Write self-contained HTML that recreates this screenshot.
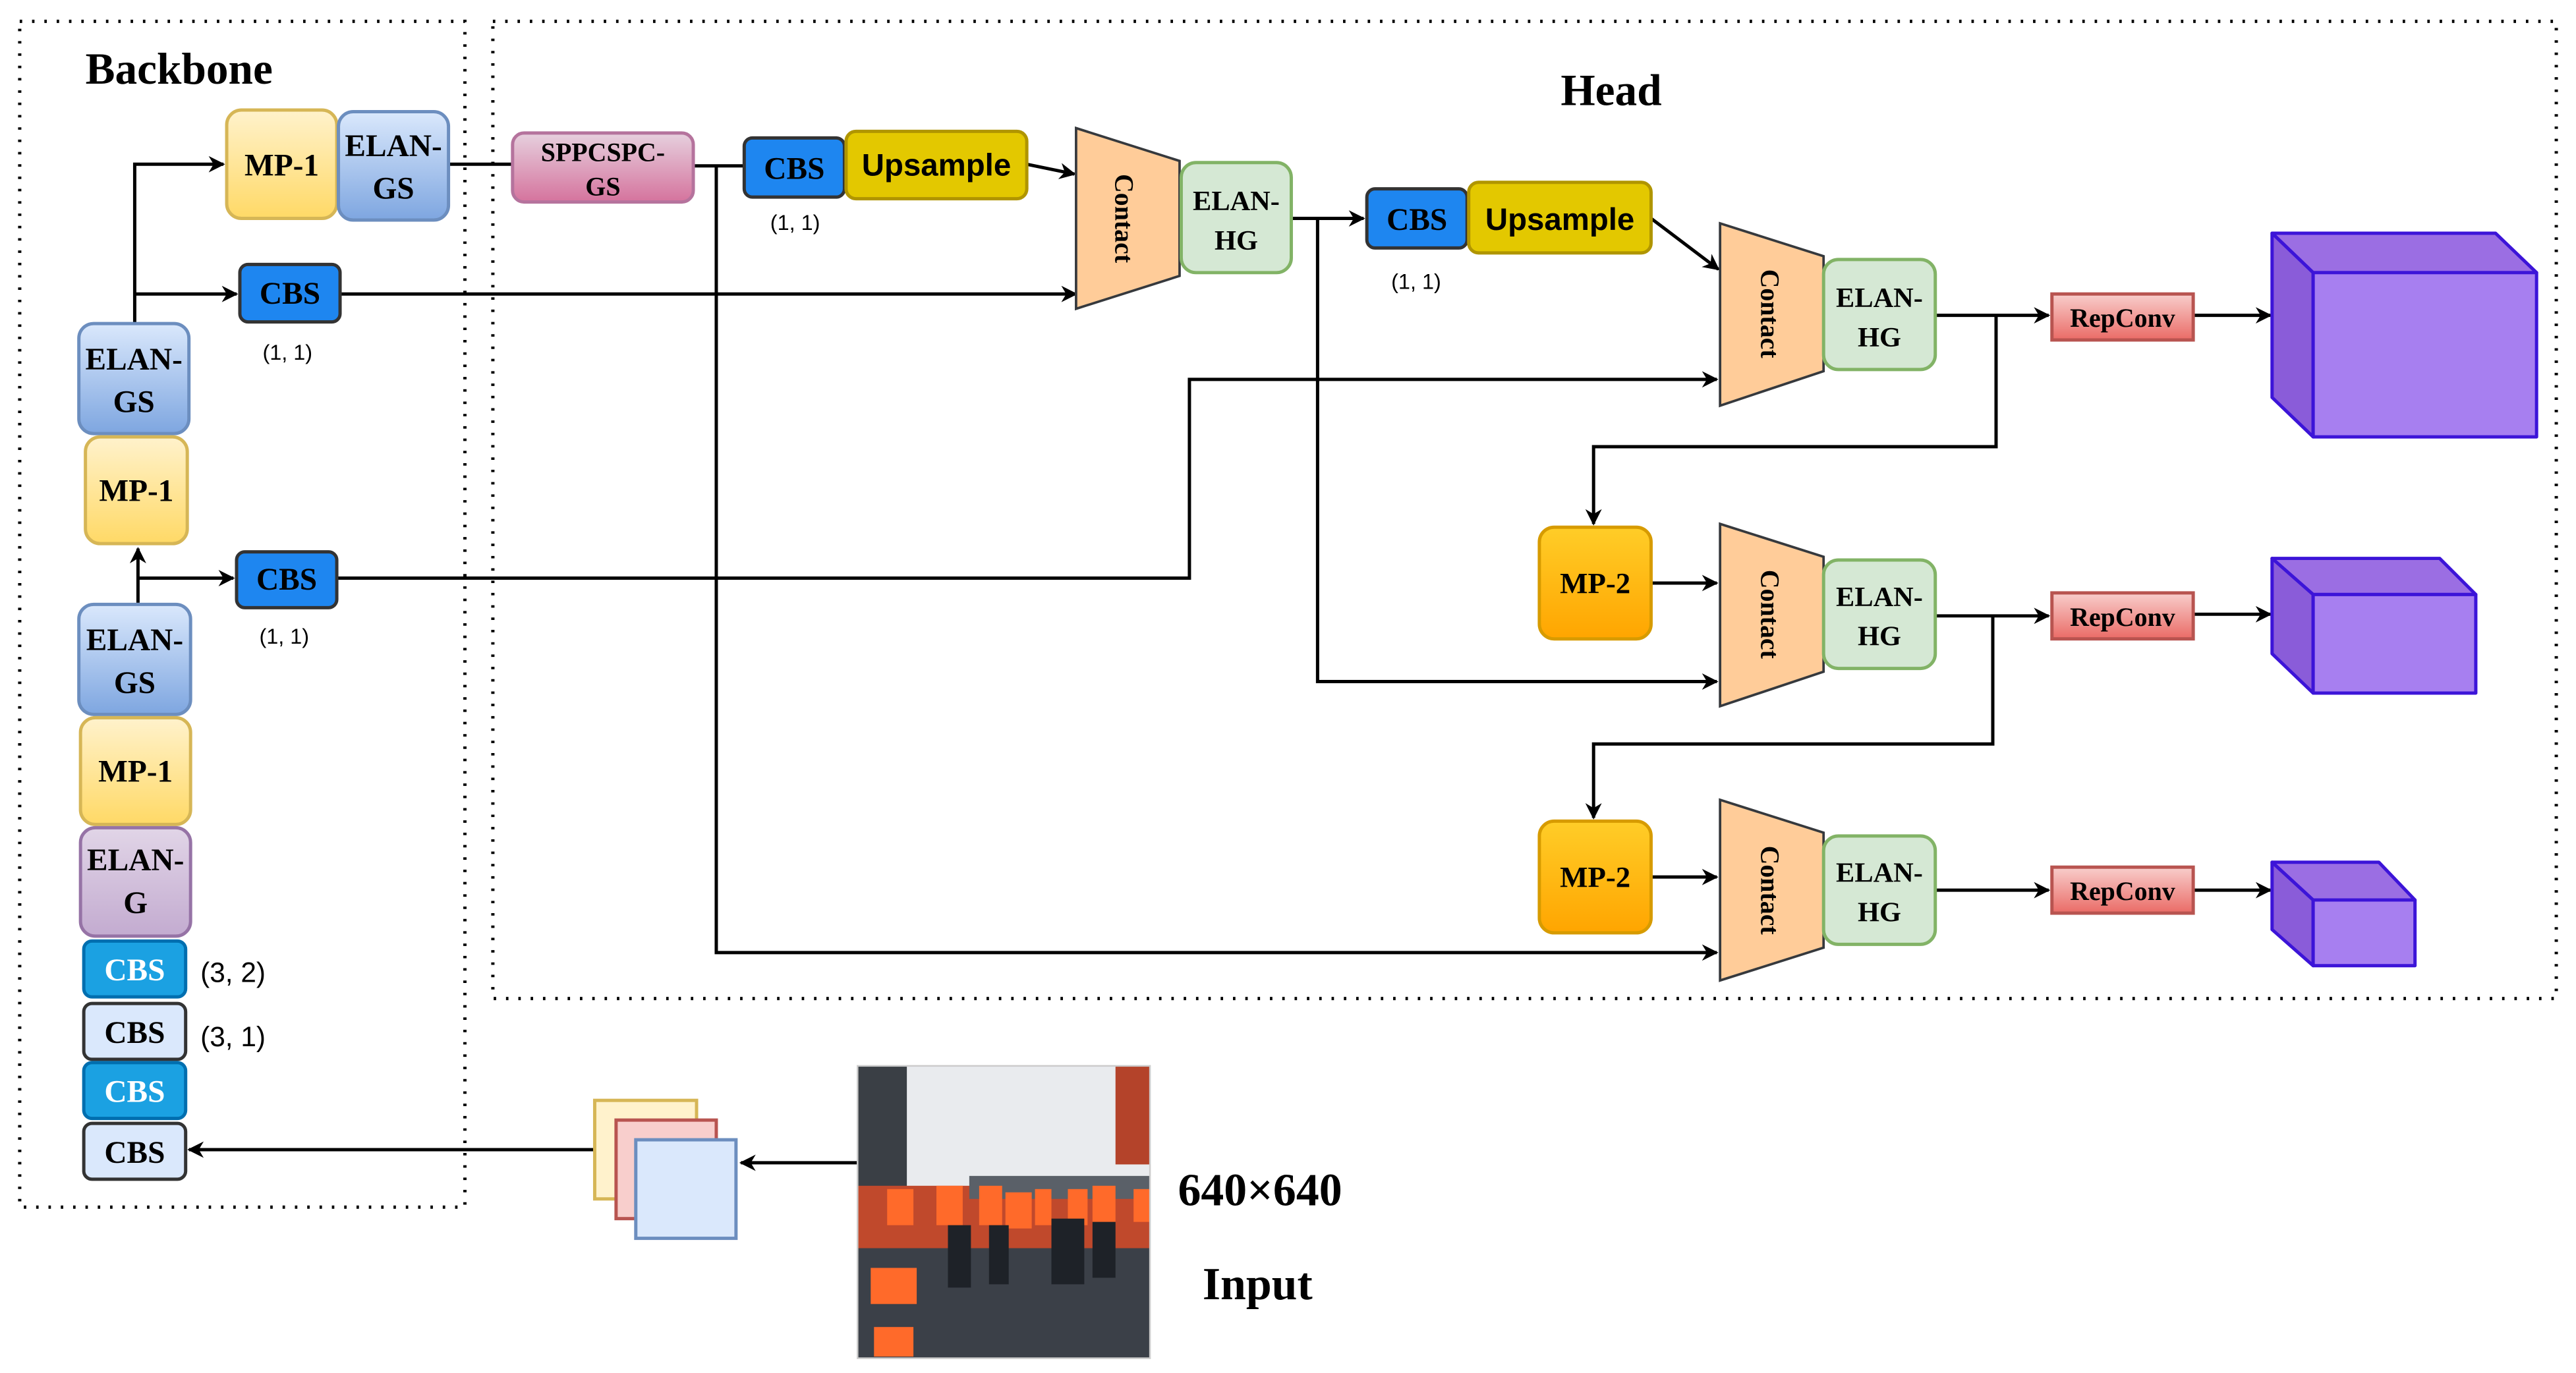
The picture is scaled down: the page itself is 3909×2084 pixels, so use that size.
<!DOCTYPE html>
<html><head><meta charset="utf-8"><style>
html,body{margin:0;padding:0;background:#fff;}
svg{display:block;}
.t{font-family:"Liberation Serif",serif;font-weight:bold;fill:#000;}
.s{font-family:"Liberation Sans",sans-serif;}
</style></head><body>
<svg width="3909" height="2084" viewBox="0 0 1568 836" preserveAspectRatio="none" xmlns="http://www.w3.org/2000/svg">
<defs>
<linearGradient id="gy" x1="0" y1="0" x2="0" y2="1"><stop offset="0" stop-color="#fff2cc"/><stop offset="1" stop-color="#ffd966"/></linearGradient>
<linearGradient id="gb" x1="0" y1="0" x2="0" y2="1"><stop offset="0" stop-color="#dae8fc"/><stop offset="1" stop-color="#7ea6e0"/></linearGradient>
<linearGradient id="gp" x1="0" y1="0" x2="0" y2="1"><stop offset="0" stop-color="#e6d0de"/><stop offset="1" stop-color="#d5739d"/></linearGradient>
<linearGradient id="gv" x1="0" y1="0" x2="0" y2="1"><stop offset="0" stop-color="#e1d5e7"/><stop offset="1" stop-color="#c3abd0"/></linearGradient>
<linearGradient id="go" x1="0" y1="0" x2="0" y2="1"><stop offset="0" stop-color="#ffcd28"/><stop offset="1" stop-color="#ffa500"/></linearGradient>
<linearGradient id="gr" x1="0" y1="0" x2="0" y2="1"><stop offset="0" stop-color="#f8cecc"/><stop offset="1" stop-color="#ea6b66"/></linearGradient>
<marker id="a" markerWidth="10" markerHeight="10" refX="9" refY="5" orient="auto" markerUnits="userSpaceOnUse"><path d="M0,0 L10,5 L0,10 L3,5 z" fill="#000"/></marker>
</defs>

<!-- dotted containers -->
<rect x="12" y="13" width="271" height="722" fill="none" stroke="#000" stroke-width="2" stroke-dasharray="1.5 6"/>
<rect x="300" y="13" width="1256" height="595" fill="none" stroke="#000" stroke-width="2" stroke-dasharray="1.5 6"/>
<text x="52" y="51" class="t" font-size="27">Backbone</text>
<text x="950" y="64" class="t" font-size="27">Head</text>

<!-- connectors -->
<g stroke="#000" stroke-width="2" fill="none">
<path d="M82 197 V100 H136" marker-end="url(#a)"/>
<path d="M82 179 H144" marker-end="url(#a)"/>
<path d="M84 367 V334" marker-end="url(#a)"/>
<path d="M84 352 H142" marker-end="url(#a)"/>
<path d="M273 100 H313"/>
<path d="M422 101 H453"/>
<path d="M436 101 V580 H1045" marker-end="url(#a)"/>
<path d="M625 100 L654 106" marker-end="url(#a)"/>
<path d="M207 179 H655" marker-end="url(#a)"/>
<path d="M786 133 H830" marker-end="url(#a)"/>
<path d="M802 133 V415 H1045" marker-end="url(#a)"/>
<path d="M1005 133 L1046 164" marker-end="url(#a)"/>
<path d="M205 352 H724 V231 H1045" marker-end="url(#a)"/>
<path d="M1178 192 H1247" marker-end="url(#a)"/>
<path d="M1335 192 H1382" marker-end="url(#a)"/>
<path d="M1215 192 V272 H970 V319" marker-end="url(#a)"/>
<path d="M1005 355 H1045" marker-end="url(#a)"/>
<path d="M1178 375 H1247" marker-end="url(#a)"/>
<path d="M1335 374 H1382" marker-end="url(#a)"/>
<path d="M1213 375 V453 H970 V498" marker-end="url(#a)"/>
<path d="M1005 534 H1045" marker-end="url(#a)"/>
<path d="M1178 542 H1247" marker-end="url(#a)"/>
<path d="M1335 542 H1382" marker-end="url(#a)"/>
<path d="M522 708 H451" marker-end="url(#a)"/>
<path d="M362 700 H115" marker-end="url(#a)"/>
</g>

<!-- backbone blocks -->
<rect x="138" y="67" width="67" height="66" rx="9" fill="url(#gy)" stroke="#d6b656" stroke-width="2"/>
<text x="171.5" y="107" class="t" font-size="19" text-anchor="middle">MP-1</text>
<rect x="206" y="68" width="67" height="66" rx="9" fill="url(#gb)" stroke="#6c8ebf" stroke-width="2"/>
<text x="239.5" y="95" class="t" font-size="19" text-anchor="middle">ELAN-</text>
<text x="239.5" y="121" class="t" font-size="19" text-anchor="middle">GS</text>

<rect x="146" y="161" width="61" height="35" rx="5" fill="#1e86f0" stroke="#333" stroke-width="2"/>
<text x="176.5" y="185" class="t" font-size="19" text-anchor="middle">CBS</text>
<text x="175" y="219" class="s" font-size="13" text-anchor="middle">(1,  1)</text>

<rect x="48" y="197" width="67" height="67" rx="9" fill="url(#gb)" stroke="#6c8ebf" stroke-width="2"/>
<text x="81.5" y="225" class="t" font-size="19" text-anchor="middle">ELAN-</text>
<text x="81.5" y="251" class="t" font-size="19" text-anchor="middle">GS</text>
<rect x="52" y="266" width="62" height="65" rx="9" fill="url(#gy)" stroke="#d6b656" stroke-width="2"/>
<text x="83" y="305" class="t" font-size="19" text-anchor="middle">MP-1</text>

<rect x="144" y="336" width="61" height="34" rx="5" fill="#1e86f0" stroke="#333" stroke-width="2"/>
<text x="174.5" y="359" class="t" font-size="19" text-anchor="middle">CBS</text>
<text x="173" y="392" class="s" font-size="13" text-anchor="middle">(1,  1)</text>

<rect x="48" y="368" width="68" height="67" rx="9" fill="url(#gb)" stroke="#6c8ebf" stroke-width="2"/>
<text x="82" y="396" class="t" font-size="19" text-anchor="middle">ELAN-</text>
<text x="82" y="422" class="t" font-size="19" text-anchor="middle">GS</text>
<rect x="49" y="437" width="67" height="65" rx="9" fill="url(#gy)" stroke="#d6b656" stroke-width="2"/>
<text x="82.5" y="476" class="t" font-size="19" text-anchor="middle">MP-1</text>
<rect x="49" y="504" width="67" height="66" rx="9" fill="url(#gv)" stroke="#9673a6" stroke-width="2"/>
<text x="82.5" y="530" class="t" font-size="19" text-anchor="middle">ELAN-</text>
<text x="82.5" y="556" class="t" font-size="19" text-anchor="middle">G</text>

<rect x="51" y="573" width="62" height="34" rx="5" fill="#1ba1e2" stroke="#006eaf" stroke-width="2"/>
<text x="82" y="597" class="t" font-size="19" text-anchor="middle" fill="#fff" style="fill:#fff">CBS</text>
<text x="122" y="598" class="s" font-size="17">(3,  2)</text>
<rect x="51" y="611" width="62" height="34" rx="5" fill="#dae8fc" stroke="#333" stroke-width="2"/>
<text x="82" y="635" class="t" font-size="19" text-anchor="middle">CBS</text>
<text x="122" y="637" class="s" font-size="17">(3,  1)</text>
<rect x="51" y="647" width="62" height="34" rx="5" fill="#1ba1e2" stroke="#006eaf" stroke-width="2"/>
<text x="82" y="671" class="t" font-size="19" text-anchor="middle" style="fill:#fff">CBS</text>
<rect x="51" y="684" width="62" height="34" rx="5" fill="#dae8fc" stroke="#333" stroke-width="2"/>
<text x="82" y="708" class="t" font-size="19" text-anchor="middle">CBS</text>

<!-- head blocks -->
<rect x="312" y="81" width="110" height="42" rx="7" fill="url(#gp)" stroke="#b5739d" stroke-width="2"/>
<text x="367" y="98" class="t" font-size="16" text-anchor="middle">SPPCSPC-</text>
<text x="367" y="119" class="t" font-size="16" text-anchor="middle">GS</text>

<rect x="453" y="84" width="61" height="36" rx="5" fill="#1e86f0" stroke="#333" stroke-width="2"/>
<text x="483.5" y="109" class="t" font-size="19" text-anchor="middle">CBS</text>
<text x="484" y="140" class="s" font-size="13" text-anchor="middle">(1,  1)</text>
<rect x="515" y="80" width="110" height="41" rx="6" fill="#e3c800" stroke="#b09500" stroke-width="2"/>
<text x="570" y="107" class="s" font-size="19" font-weight="bold" text-anchor="middle">Upsample</text>

<polygon points="655,78 718,98 718,168 655,188" fill="#ffcc99" stroke="#36393d" stroke-width="1.5"/>
<text transform="translate(679,133) rotate(90)" class="t" font-size="16" text-anchor="middle">Contact</text>
<rect x="719" y="99" width="67" height="67" rx="9" fill="#d5e8d4" stroke="#82b366" stroke-width="2"/>
<text x="752.5" y="128" class="t" font-size="17" text-anchor="middle">ELAN-</text>
<text x="752.5" y="152" class="t" font-size="17" text-anchor="middle">HG</text>

<rect x="832" y="115" width="61" height="36" rx="5" fill="#1e86f0" stroke="#333" stroke-width="2"/>
<text x="862.5" y="140" class="t" font-size="19" text-anchor="middle">CBS</text>
<text x="862" y="176" class="s" font-size="13" text-anchor="middle">(1,  1)</text>
<rect x="894" y="111" width="111" height="43" rx="6" fill="#e3c800" stroke="#b09500" stroke-width="2"/>
<text x="949.5" y="140" class="s" font-size="19" font-weight="bold" text-anchor="middle">Upsample</text>

<g>
<polygon points="1047,136 1110,156 1110,226 1047,247" fill="#ffcc99" stroke="#36393d" stroke-width="1.5"/>
<text transform="translate(1072,191) rotate(90)" class="t" font-size="16" text-anchor="middle">Contact</text>
<rect x="1110" y="158" width="68" height="67" rx="9" fill="#d5e8d4" stroke="#82b366" stroke-width="2"/>
<text x="1144" y="187" class="t" font-size="17" text-anchor="middle">ELAN-</text>
<text x="1144" y="211" class="t" font-size="17" text-anchor="middle">HG</text>
</g>
<g>
<polygon points="1047,319 1110,339 1110,409 1047,430" fill="#ffcc99" stroke="#36393d" stroke-width="1.5"/>
<text transform="translate(1072,374) rotate(90)" class="t" font-size="16" text-anchor="middle">Contact</text>
<rect x="1110" y="341" width="68" height="66" rx="9" fill="#d5e8d4" stroke="#82b366" stroke-width="2"/>
<text x="1144" y="369" class="t" font-size="17" text-anchor="middle">ELAN-</text>
<text x="1144" y="393" class="t" font-size="17" text-anchor="middle">HG</text>
</g>
<g>
<polygon points="1047,487 1110,507 1110,577 1047,597" fill="#ffcc99" stroke="#36393d" stroke-width="1.5"/>
<text transform="translate(1072,542) rotate(90)" class="t" font-size="16" text-anchor="middle">Contact</text>
<rect x="1110" y="509" width="68" height="66" rx="9" fill="#d5e8d4" stroke="#82b366" stroke-width="2"/>
<text x="1144" y="537" class="t" font-size="17" text-anchor="middle">ELAN-</text>
<text x="1144" y="561" class="t" font-size="17" text-anchor="middle">HG</text>
</g>

<rect x="937" y="321" width="68" height="68" rx="9" fill="url(#go)" stroke="#d79b00" stroke-width="2"/>
<text x="971" y="361" class="t" font-size="18" text-anchor="middle">MP-2</text>
<rect x="937" y="500" width="68" height="68" rx="9" fill="url(#go)" stroke="#d79b00" stroke-width="2"/>
<text x="971" y="540" class="t" font-size="18" text-anchor="middle">MP-2</text>

<rect x="1249" y="179" width="86" height="28" fill="url(#gr)" stroke="#b85450" stroke-width="2"/>
<text x="1292" y="199" class="t" font-size="16" text-anchor="middle">RepConv</text>
<rect x="1249" y="361" width="86" height="28" fill="url(#gr)" stroke="#b85450" stroke-width="2"/>
<text x="1292" y="381" class="t" font-size="16" text-anchor="middle">RepConv</text>
<rect x="1249" y="528" width="86" height="28" fill="url(#gr)" stroke="#b85450" stroke-width="2"/>
<text x="1292" y="548" class="t" font-size="16" text-anchor="middle">RepConv</text>

<!-- cubes -->
<g stroke="#3c14d8" stroke-width="2" stroke-linejoin="round">
<polygon points="1383,142 1519,142 1544,166 1408,166" fill="#9b6ee3"/>
<polygon points="1383,142 1408,166 1408,266 1383,242" fill="#8a5cd9"/>
<rect x="1408" y="166" width="136" height="100" fill="#a77ff0"/>
<polygon points="1383,340 1485,340 1507,362 1408,362" fill="#9b6ee3"/>
<polygon points="1383,340 1408,362 1408,422 1383,398" fill="#8a5cd9"/>
<rect x="1408" y="362" width="99" height="60" fill="#a77ff0"/>
<polygon points="1383,525 1448,525 1470,548 1408,548" fill="#9b6ee3"/>
<polygon points="1383,525 1408,548 1408,588 1383,566" fill="#8a5cd9"/>
<rect x="1408" y="548" width="62" height="40" fill="#a77ff0"/>
</g>

<!-- input stack -->
<rect x="362" y="670" width="62" height="60" fill="#fff2cc" stroke="#d6b656" stroke-width="2"/>
<rect x="375" y="682" width="61" height="60" fill="#f8cecc" stroke="#b85450" stroke-width="2"/>
<rect x="387" y="694" width="61" height="60" fill="#dae8fc" stroke="#6c8ebf" stroke-width="2"/>

<!-- photo -->
<g>
<rect x="522" y="649" width="178" height="178" fill="#e9ebee"/>
<rect x="522" y="649" width="30" height="75" fill="#3a3f45"/>
<rect x="679" y="649" width="21" height="60" fill="#b4432a"/>
<rect x="522" y="722" width="178" height="45" fill="#c0492c"/>
<rect x="590" y="716" width="110" height="14" fill="#5a6068"/>
<rect x="522" y="760" width="178" height="67" fill="#3b4048"/>
<g fill="#ff6a2a">
<rect x="570" y="722" width="16" height="24"/><rect x="596" y="722" width="14" height="24"/>
<rect x="612" y="726" width="16" height="22"/><rect x="630" y="724" width="10" height="22"/>
<rect x="650" y="724" width="12" height="22"/><rect x="665" y="722" width="14" height="22"/>
<rect x="690" y="724" width="10" height="20"/><rect x="540" y="724" width="16" height="22"/>
<rect x="530" y="772" width="28" height="22"/><rect x="532" y="808" width="24" height="18"/>
</g>
<g fill="#1e2228">
<rect x="577" y="746" width="14" height="38"/><rect x="602" y="746" width="12" height="36"/>
<rect x="640" y="742" width="20" height="40"/><rect x="665" y="744" width="14" height="34"/>
</g>
<rect x="522" y="649" width="178" height="178" fill="none" stroke="#ccc" stroke-width="1"/>
</g>
<text x="717" y="734" class="t" font-size="28">640×640</text>
<text x="732" y="791" class="t" font-size="28">Input</text>
</svg>
</body></html>
